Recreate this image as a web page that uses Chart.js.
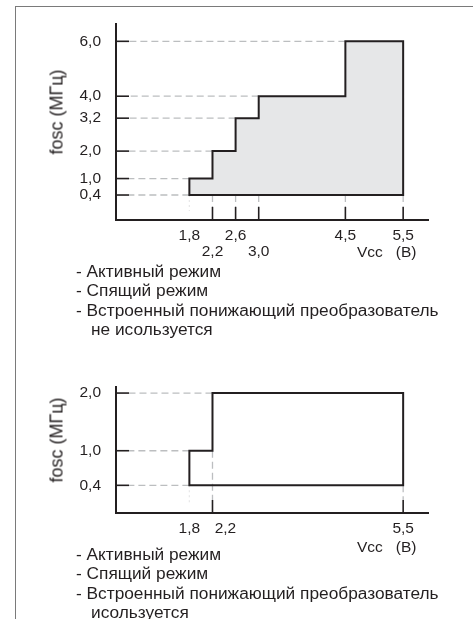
<!DOCTYPE html>
<html lang="ru">
<head>
<meta charset="utf-8">
<script src="https://cdn.jsdelivr.net/npm/chart.js@4.4.1/dist/chart.umd.min.js"></script>
<style>
  html, body { margin: 0; padding: 0; background: #fff; }
  body { width: 473px; height: 619px; position: relative; overflow: hidden;
         font-family: "Liberation Sans", Arial, sans-serif; color: #231f20; }
  .frame { position: absolute; left: 15px; top: 6px; right: -2px; bottom: -2px;
           border-left: 1px solid #7a7a7a; border-top: 1px solid #7a7a7a; }
  .plot { position: absolute; left: 0; width: 473px; }
  .ytitle { position: absolute; font-size: 18px; white-space: nowrap;
            transform: translate(-50%, -50%) rotate(-90deg); }
  .unit { position: absolute; font-size: 15.5px; white-space: pre; }
  .notes { position: absolute; left: 76px; font-size: 17.3px; line-height: 19.4px; white-space: nowrap; }
  .notes .cont { padding-left: 15px; }
</style>
</head>
<body>
<div class="frame"></div>

<div class="plot" style="top:0; height:262px;"><canvas id="chartTop"></canvas></div>
<div class="ytitle" style="left:57px; top:112px;">fosc (МГц)</div>
<div class="unit" style="left:357px; top:243px;">Vcc   (B)</div>
<div class="notes" style="top:262px;">
  <div>- Активный режим</div>
  <div>- Спящий режим</div>
  <div>- Встроенный понижающий преобразователь</div>
  <div class="cont">не исользуется</div>
</div>

<div class="plot" style="top:363px; height:192px;"><canvas id="chartBot"></canvas></div>
<div class="ytitle" style="left:57px; top:440px;">fosc (МГц)</div>
<div class="unit" style="left:357px; top:538px;">Vcc   (B)</div>
<div class="notes" style="top:545px;">
  <div>- Активный режим</div>
  <div>- Спящий режим</div>
  <div>- Встроенный понижающий преобразователь</div>
  <div class="cont">исользуется</div>
</div>

<script>
// верхний график: понижающий преобразователь не используется
const vccTop = [1.8, 1.8, 2.2, 2.2, 2.6, 2.6, 3.0, 3.0, 4.5, 4.5, 5.5, 5.5, 1.8];
const foscTop = [0.4, 1.0, 1.0, 2.0, 2.0, 3.2, 3.2, 4.0, 4.0, 6.0, 6.0, 0.4, 0.4];
const yTicksTop = [0.4, 1.0, 2.0, 3.2, 4.0, 6.0];
const yGuideEndTop = [1.8, 1.8, 2.2, 2.6, 3.0, 4.5];
const xTicksTop = [1.8, 2.2, 2.6, 3.0, 4.5, 5.5];
const xGuideEndTop = [0.4, 0.4, 0.4, 0.4, 0.4, 0.4];
const xLabelsTop = ["1,8", "2,2", "2,6", "3,0", "4,5", "5,5"];

// нижний график: понижающий преобразователь используется
const vccBot = [1.8, 1.8, 2.2, 2.2, 5.5, 5.5, 1.8];
const foscBot = [0.4, 1.0, 1.0, 2.0, 2.0, 0.4, 0.4];
const yTicksBot = [0.4, 1.0, 2.0];
const yGuideEndBot = [1.8, 1.8, 2.2];
const xTicksBot = [1.8, 2.2, 5.5];
const xGuideEndBot = [0.4, 1.0, 0.4];
const xLabelsBot = ["1,8", "2,2", "5,5"];

const ink = "#231f20";
const dash = "#bcbec0";

// dashed guide lines and the short inner tick marks
const guides = {
  id: "guides",
  beforeDatasetsDraw(chart, args, o) {
    const { ctx, chartArea: a, scales: { x, y } } = chart;
    ctx.save();
    ctx.strokeStyle = dash;
    ctx.lineWidth = 1.3;
    ctx.setLineDash([7, 4]);
    o.yTicks.forEach(function (v, i) {
      const py = y.getPixelForValue(v);
      ctx.beginPath();
      ctx.moveTo(x.getPixelForValue(o.yEnd[i]), py);
      ctx.lineTo(a.left + 13, py);
      ctx.stroke();
    });
    o.xTicks.forEach(function (v, i) {
      const px = x.getPixelForValue(v);
      ctx.globalAlpha = i === 0 ? 0.35 : 1;
      ctx.setLineDash(i === 0 ? [2, 3] : [7, 4]);
      ctx.beginPath();
      ctx.moveTo(px, y.getPixelForValue(o.xEnd[i]));
      ctx.lineTo(px, i === 0 ? a.bottom - 9 : a.bottom - 13);
      ctx.stroke();
    });
    ctx.restore();
  },
  afterDatasetsDraw(chart, args, o) {
    const { ctx, chartArea: a, scales: { x, y } } = chart;
    ctx.save();
    ctx.strokeStyle = ink;
    ctx.lineWidth = 1.6;
    o.yTicks.forEach(function (v) {
      const py = y.getPixelForValue(v);
      ctx.beginPath();
      ctx.moveTo(a.left, py);
      ctx.lineTo(a.left + 13, py);
      ctx.stroke();
    });
    o.xTicks.forEach(function (v, i) {
      if (i === 0) return; // no mark under 1,8
      const px = x.getPixelForValue(v);
      ctx.beginPath();
      ctx.moveTo(px, a.bottom);
      ctx.lineTo(px, a.bottom - 13);
      ctx.stroke();
    });
    ctx.restore();
  }
};

function makeChart(id, vcc, fosc, fill, yTicks, yEnd, xTicks, xEnd, xLabels, xLabelFmt, yRange) {
  const pts = vcc.map(function (v, i) { return { x: v, y: fosc[i] }; });
  const fmtY = function (v) { return v.toFixed(1).replace(".", ","); };
  return new Chart(document.getElementById(id), {
    type: "scatter",
    data: {
      datasets: [{
        data: pts,
        showLine: true,
        fill: fill ? "shape" : false,
        backgroundColor: fill || "transparent",
        borderColor: ink,
        borderWidth: 2,
        borderJoinStyle: "miter",
        borderCapStyle: "square",
        pointRadius: 0,
        clip: false
      }]
    },
    options: {
      responsive: true,
      maintainAspectRatio: false,
      animation: false,
      events: [],
      layout: { padding: { left: 0, top: 22, right: 45, bottom: 0 } },
      plugins: {
        legend: { display: false },
        tooltip: { enabled: false },
        guides: { yTicks: yTicks, yEnd: yEnd, xTicks: xTicks, xEnd: xEnd }
      },
      scales: {
        x: {
          type: "linear",
          min: 0.53,
          max: 5.93,
          afterBuildTicks: function (s) { s.ticks = xTicks.map(function (v) { return { value: v }; }); },
          afterFit: function (s) { s.height = 42; },
          grid: { display: false, drawTicks: false },
          border: { color: ink, width: 2 },
          ticks: {
            autoSkip: false,
            maxRotation: 0,
            padding: 8,
            color: ink,
            font: { family: "'Liberation Sans', Arial, sans-serif", size: 15.5, lineHeight: 1.02 },
            callback: function (v, i) { return xLabelFmt(xLabels[i], i); }
          }
        },
        y: {
          type: "linear",
          min: yRange[0],
          max: yRange[1],
          afterBuildTicks: function (s) { s.ticks = yTicks.map(function (v) { return { value: v }; }); },
          afterFit: function (s) { s.width = 116; },
          grid: { display: false, drawTicks: false },
          border: { color: ink, width: 2 },
          ticks: {
            autoSkip: false,
            padding: 15,
            color: ink,
            font: { family: "'Liberation Sans', Arial, sans-serif", size: 15.5 },
            callback: function (v) { return fmtY(v); }
          }
        }
      }
    },
    plugins: [guides]
  });
}

// 2,2 and 3,0 go on the second row under the axis
makeChart("chartTop", vccTop, foscTop, "#e6e7e8", yTicksTop, yGuideEndTop,
  xTicksTop, xGuideEndTop, xLabelsTop,
  function (t, i) { return i === 1 || i === 3 ? ["", t] : t; },
  [-0.51, 6.62]);

// 2,2 is pushed a little to the right of its tick
makeChart("chartBot", vccBot, foscBot, null, yTicksBot, yGuideEndBot,
  xTicksBot, xGuideEndBot, xLabelsBot,
  function (t, i) { return i === 1 ? "\u2007\u2007\u2007" + t : t; },
  [-0.08, 2.10]);
</script>
</body>
</html>
